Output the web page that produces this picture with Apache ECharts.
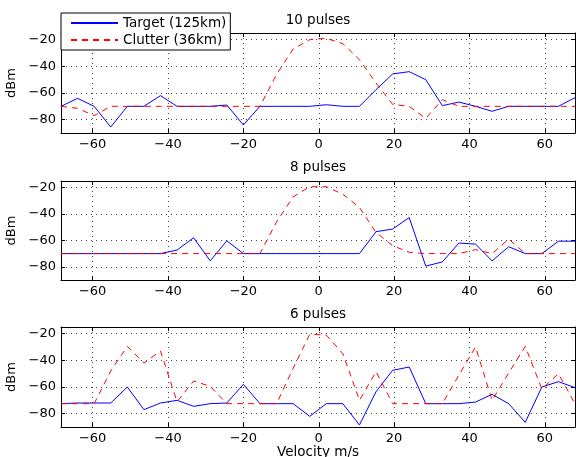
<!DOCTYPE html>
<html>
<head>
<meta charset="utf-8">
<script src="https://cdn.jsdelivr.net/npm/echarts@6/dist/echarts.min.js"></script>
<style>
  html, body { margin: 0; padding: 0; background: #fff; }
</style>
</head>
<body>
<div id="main" style="width:576px;height:457px"></div>
<script>
// velocity bins (m/s)
var velocity = [-68.4, -64.0, -59.6, -55.2, -50.8, -46.4, -42.0, -37.6, -33.2, -28.8, -24.4, -20.0,
  -15.6, -11.2, -6.8, -2.4, 2.0, 6.4, 10.8, 15.2, 19.6, 24.0, 28.4, 32.8,
  37.2, 41.6, 46.0, 50.4, 54.8, 59.2, 63.6, 68.0]

var panelTitles = ['10 pulses', '8 pulses', '6 pulses']
var seriesNames = ['Target (125km)', 'Clutter (36km)']

// 10 pulses
var target10 = [-70, -64, -70, -85.5, -70, -70, -62, -70, -70, -70, -69, -84,
  -70, -70, -70, -70, -68.8, -70, -70, -57.5, -45.7, -44, -50, -69.5,
  -66.8, -70, -73.7, -70, -70, -70, -70, -63.5]
var clutter10 = [-70, -71.5, -77, -70, -70, -70, -70, -70, -70, -70, -70, -70,
  -70, -46, -27, -20, -19, -23, -35, -52.5, -68.5, -70, -79, -65,
  -70, -70, -70, -70, -70, -70, -70, -70]

// 8 pulses
var target8 = [-70, -70, -70, -70, -70, -70, -70, -67.3, -58, -75.5, -60.3, -70,
  -70, -70, -70, -70, -70, -70, -70, -53.4, -51.4, -42.7, -79.5, -76.3,
  -62, -62.8, -75.5, -64.8, -70, -70, -60.6, -60.6]
var clutter8 = [-70, -70, -70, -70, -70, -70, -70, -70, -70, -70, -70, -70,
  -70, -46, -27, -19.3, -19.3, -25, -35, -54, -64, -69, -70, -70,
  -70, -67, -70, -59, -70, -70, -70, -70]

// 6 pulses
var target6 = [-72.5, -72, -72, -72, -60, -77, -72, -70, -74.5, -72.5, -72, -58,
  -72.5, -72.5, -72.5, -82, -72.5, -72.5, -88.5, -63.5, -47.5, -45, -72.5, -72.5,
  -72.5, -71.3, -65.5, -72.5, -86.5, -60, -56, -60.5]
var clutter6 = [-72.5, -72.5, -72.5, -48, -29.5, -42, -33, -71, -55.5, -59.5, -72.5, -72.5,
  -72.5, -72.5, -46, -20.5, -21, -35, -70, -48.5, -72.5, -72.5, -72.5, -72.5,
  -51, -30, -70, -49.5, -29.5, -61.5, -50, -72.5]

var xTicks = [-60, -40, -20, 0, 20, 40, 60]
var yTicks = [-80, -60, -40, -20]

var targets = [target10, target8, target6]
var clutters = [clutter10, clutter8, clutter6]

var FONT = 'DejaVu Sans, Verdana, sans-serif'
var gridTops = [33, 181, 327]
var gridHeights = [100, 99, 100]
var titleY = [20, 167, 314]

function fmt (v) {
  return v < 0 ? '\u2212' + Math.abs(v) : String(v)
}

function pairs (ys) {
  return velocity.map(function (x, i) { return [x, ys[i]] })
}

var grids = []
var xAxes = []
var yAxes = []
var series = []
var graphics = []

for (var p = 0; p < 3; p++) {
  grids.push({ left: 61, right: 1, top: gridTops[p], height: gridHeights[p], containLabel: false, outerBoundsMode: 'none' })

  var frameLine = { show: true, onZero: false, lineStyle: { color: '#000', width: 1 } }
  // bottom axis with labels
  xAxes.push({
    type: 'value', gridIndex: p, position: 'bottom',
    min: velocity[0], max: velocity[velocity.length - 1],
    axisLine: frameLine,
    axisTick: { show: true, inside: true, length: 4, customValues: xTicks, lineStyle: { color: '#000' } },
    axisLabel: { customValues: xTicks, formatter: fmt, color: '#000', fontSize: 13, fontFamily: FONT, margin: 5 },
    splitLine: { show: true, lineStyle: { color: '#444', width: 1, type: [1, 4] } },
    name: p === 2 ? 'Velocity m/s' : '',
    nameLocation: 'middle', nameGap: 18,
    nameTextStyle: { color: '#000', fontSize: 13.5, fontFamily: FONT }
  })
  // top axis (frame only)
  xAxes.push({
    type: 'value', gridIndex: p, position: 'top',
    min: velocity[0], max: velocity[velocity.length - 1],
    axisLine: frameLine,
    axisTick: { show: true, inside: true, length: 4, customValues: xTicks, lineStyle: { color: '#000' } },
    axisLabel: { show: false },
    splitLine: { show: false }
  })
  yAxes.push({
    type: 'value', gridIndex: p, position: 'left',
    min: -90, max: -15,
    axisLine: frameLine,
    axisTick: { show: true, inside: true, length: 4, customValues: yTicks, lineStyle: { color: '#000' } },
    axisLabel: { customValues: yTicks, formatter: fmt, color: '#000', fontSize: 13, fontFamily: FONT, margin: 5 },
    splitLine: { show: true, lineStyle: { color: '#444', width: 1, type: [1, 4] } },
    name: 'dBm', nameLocation: 'middle', nameGap: 40,
    nameTextStyle: { color: '#000', fontSize: 13, fontFamily: FONT }
  })
  yAxes.push({
    type: 'value', gridIndex: p, position: 'right',
    min: -90, max: -15,
    axisLine: frameLine,
    axisTick: { show: true, inside: true, length: 4, customValues: yTicks, lineStyle: { color: '#000' } },
    axisLabel: { show: false },
    splitLine: { show: false }
  })

  series.push({
    name: seriesNames[0], type: 'line', xAxisIndex: 2 * p, yAxisIndex: 2 * p,
    data: pairs(targets[p]), symbol: 'none', color: '#0000ff',
    lineStyle: { color: '#0000ff', width: 1 }
  })
  series.push({
    name: seriesNames[1], type: 'line', xAxisIndex: 2 * p, yAxisIndex: 2 * p,
    data: pairs(clutters[p]), symbol: 'none', color: '#ff0000',
    lineStyle: { color: '#ff0000', width: 1, type: [6, 5] }
  })

  graphics.push({
    type: 'text', x: 318, y: titleY[p],
    style: { text: panelTitles[p], align: 'center', verticalAlign: 'middle', fill: '#000', font: '13.5px ' + FONT }
  })
}

var myChart = echarts.init(document.getElementById('main'))
myChart.setOption({
  animation: false,
  backgroundColor: '#fff',
  grid: grids,
  xAxis: xAxes,
  yAxis: yAxes,
  legend: {
    data: seriesNames,
    orient: 'vertical',
    left: 61, top: 13,
    padding: [3, 4, 3, 9],
    itemWidth: 47, itemHeight: 14, itemGap: 3,
    itemStyle: { opacity: 0 },
    backgroundColor: '#fff',
    borderColor: '#000', borderWidth: 1,
    textStyle: { color: '#000', fontSize: 13.5, fontFamily: FONT }
  },
  graphic: graphics,
  series: series
})
</script>
</body>
</html>
